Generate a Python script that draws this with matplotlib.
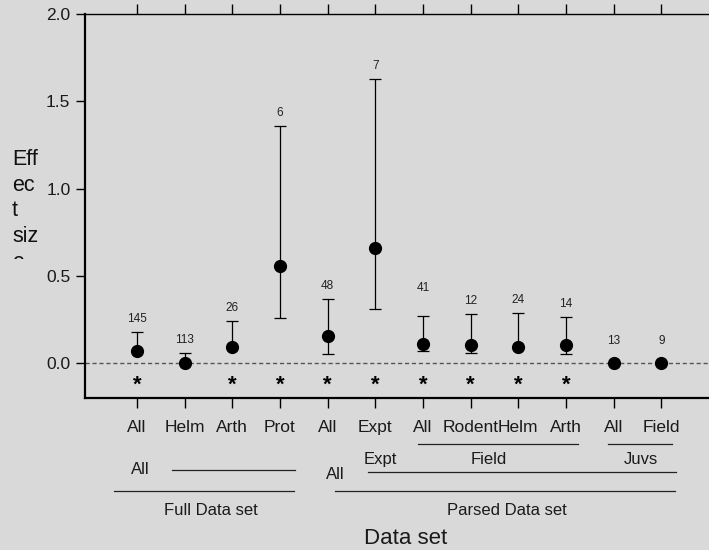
import matplotlib.pyplot as plt
from matplotlib.lines import Line2D
from matplotlib.transforms import Bbox

plt.rcParams['font.family'] = ['Liberation Sans', 'DejaVu Sans']

# effect sizes with upper / lower confidence limits and sample sizes
groups = ['All', 'Helm', 'Arth', 'Prot', 'All', 'Expt', 'All', 'Rodent', 'Helm', 'Arth', 'All', 'Field']
effect = [0.067, 0.00, 0.092, 0.558, 0.157, 0.661, 0.109, 0.105, 0.093, 0.101, 0.0, 0.0]
upper = [0.178, 0.06, 0.239, 1.358, 0.367, 1.628, 0.269, 0.281, 0.285, 0.265, 0.0, 0.0]
lower = [0.067, 0.00, 0.092, 0.258, 0.052, 0.309, 0.069, 0.057, 0.093, 0.050, 0.0, 0.0]
n_obs = [145, 113, 26, 6, 48, 7, 41, 12, 24, 14, 13, 9]
signif = [True, False, True, True, True, True, True, True, True, True, False, False]

x = list(range(1, len(groups) + 1))

fig = plt.figure(figsize=(7.09, 5.5), dpi=100)
fig.patch.set_facecolor('#d9d9d9')
ax = fig.add_axes([85 / 709, 1 - 398 / 550, 1 - 85 / 709, 384 / 550])
ax.set_facecolor('#d9d9d9')

ax.axhline(0, color='#555555', lw=1, ls=(0, (3, 2)), zorder=1)

yerr = [[e - l for e, l in zip(effect, lower)], [u - e for u, e in zip(upper, effect)]]
ax.errorbar(x, effect, yerr=yerr, fmt='o', color='black', ms=8.5,
            elinewidth=0.9, capsize=4, capthick=0.9, zorder=3)

# sample sizes above each bar
for xi, u, n in zip(x, upper, n_obs):
    off = 0.075
    if n == 41:
        off = 0.16
    if u == 0:
        off = 0.125
    ax.text(xi, u + off, str(n), ha='center', va='center', fontsize=8.5, color='#222222')

# significance stars
for xi, s in zip(x, signif):
    if s:
        ax.text(xi, -0.125, '*', ha='center', va='center', fontsize=16, fontweight='bold')

ax.set_xlim(-0.09, 13.0)
ax.set_ylim(-0.2, 2.0)
ax.set_yticks([0.0, 0.5, 1.0, 1.5, 2.0])
ax.set_yticklabels(['0.0', '0.5', '1.0', '1.5', '2.0'])
ax.set_xticks(x)
ax.set_xticklabels(groups)
ax.tick_params(axis='x', top=True, direction='out', length=7, width=1, pad=9, labelsize=12.5)
ax.tick_params(axis='y', direction='out', length=6.5, width=1, pad=4, labelsize=12.5)
for lab in ax.get_xticklabels() + ax.get_yticklabels():
    lab.set_color('#1a1a1a')

ax.spines['right'].set_visible(False)
ax.spines['left'].set_linewidth(1.6)
ax.spines['bottom'].set_linewidth(1.6)
ax.spines['top'].set_linewidth(1.0)

# grouping labels below the axis
tr = ax.get_xaxis_transform()
labels = [
    (1.08, -0.1875, 'All', 12),
    (2.55, -0.292, 'Full Data set', 12),
    (5.16, -0.198, 'All', 12),
    (6.10, -0.159, 'Expt', 12),
    (8.37, -0.159, 'Field', 12),
    (11.58, -0.159, 'Juvs', 12),
    (8.77, -0.292, 'Parsed Data set', 12),
    (6.63, -0.365, 'Data set', 16),
]
for lx, ly, txt, fs in labels:
    ax.text(lx, ly, txt, transform=tr, ha='center', va='center', fontsize=fs,
            color='#1a1a1a', clip_on=False)

lines = [
    (1.73, 4.32, -0.1875),
    (0.52, 4.30, -0.242),
    (6.90, 10.26, -0.1198),
    (10.89, 12.23, -0.1198),
    (5.85, 12.31, -0.193),
    (5.16, 12.29, -0.242),
]
for x0, x1, ly in lines:
    ax.add_line(Line2D([x0, x1], [ly, ly], transform=tr, color='#222222', lw=0.9, clip_on=False))

# y label squeezed into a narrow box, last line cut off
ylab = fig.text(12 / 709, 1 - 149 / 550, 'Eff\nec\nt\nsiz\ne', ha='left', va='top',
                fontsize=15.5, linespacing=1.29, color='#111111')
ylab.set_clip_box(Bbox.from_extents(0, 550 - 259, 80, 550))
ylab.set_clip_on(True)

fig.savefig('out.png', dpi=100, facecolor=fig.get_facecolor())
